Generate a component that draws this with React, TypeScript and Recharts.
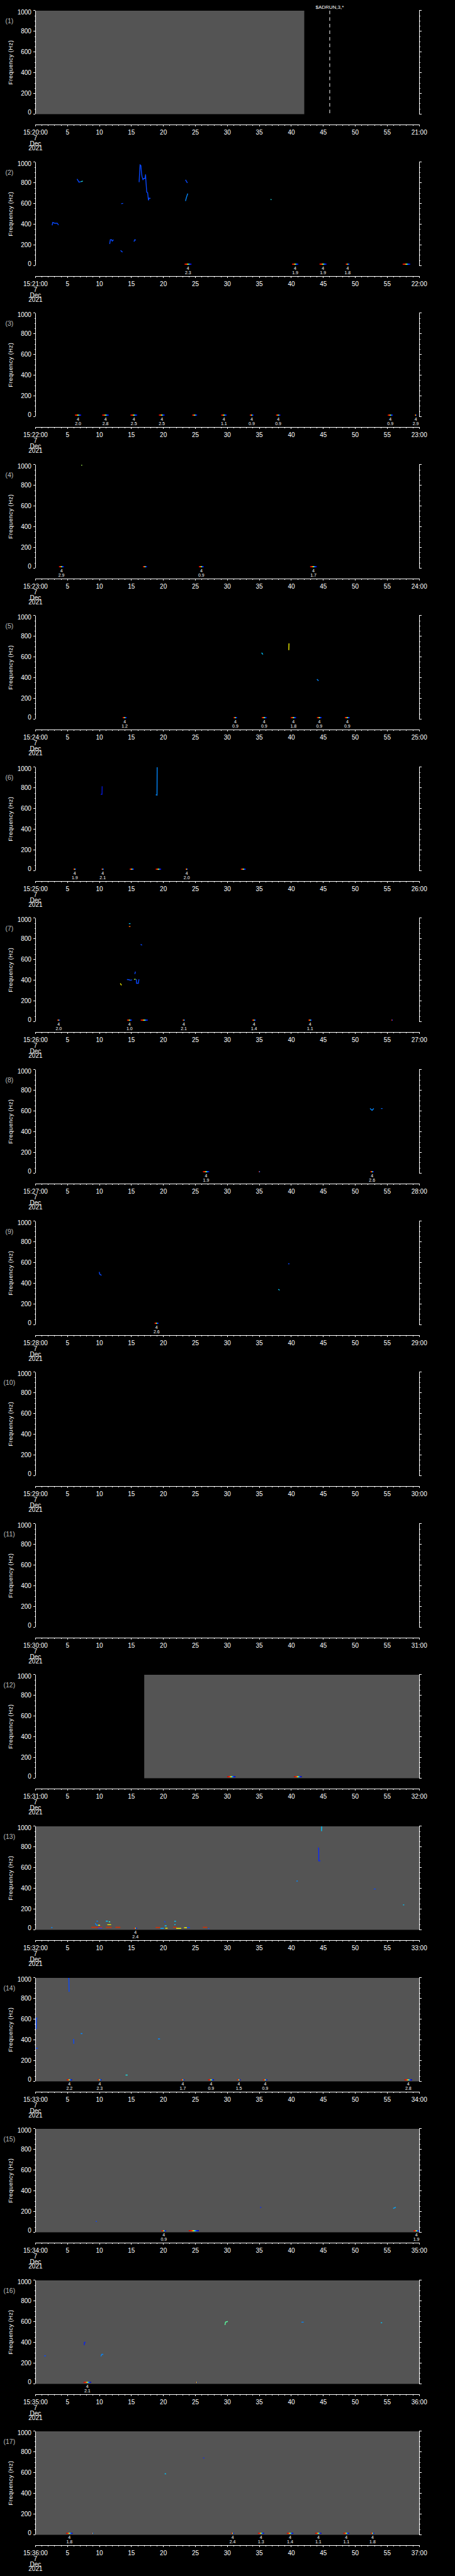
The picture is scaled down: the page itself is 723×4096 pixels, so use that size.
import React from "react"
import {
  ComposedChart,
  Line,
  XAxis,
  YAxis,
  ReferenceArea,
  ReferenceLine,
} from "recharts"

// layout (reference px * 0.705)
const S = 0.705
const W = 723
const PITCH = 341.25 * S
const TOP = 24 * S
const PLOT_H = 233.3 * S // 0..1000 Hz
const BELOW = 24 * S // gap between 0 Hz and the time axis
const LEFT = 80 * S
const RIGHT = W - 945 * S
const F_MIN = -(BELOW / PLOT_H) * 1000
const BAR_F0 = 8
const BAR_F1 = 20
const FONT = "'Liberation Sans', Arial, Helvetica, sans-serif"

// data
const minutes = [20, 21, 22, 23, 24, 25, 26, 27, 28, 29, 30, 31, 32, 33, 34, 35, 36]
const dateLines = ["7", "Dec", "2021"]
const secTicks = [
  0, 1, 2, 3, 4, 5, 6, 7, 8, 9, 10, 11, 12, 13, 14, 15, 16, 17, 18, 19, 20,
  21, 22, 23, 24, 25, 26, 27, 28, 29, 30, 31, 32, 33, 34, 35, 36, 37, 38, 39, 40,
  41, 42, 43, 44, 45, 46, 47, 48, 49, 50, 51, 52, 53, 54, 55, 56, 57, 58, 59, 60,
]
const freqTicks = [
  0, 50, 100, 150, 200, 250, 300, 350, 400, 450, 500, 550, 600, 650, 700, 750,
  800, 850, 900, 950, 1000,
]

// [panel, from s, to s] : no-data intervals
const gaps: [number, number, number][] = [
  [1, 0, 42.02],
  [12, 17.0, 60],
  [13, 0, 60],
  [14, 0, 60],
  [15, 0, 60],
  [16, 0, 60],
  [17, 0, 60],
]

// [panel, s, text]
const runMarks: [number, number, string][] = [[1, 46, "$ADRUN,3,*"]]

// [panel, intensity 0..1, [[s, Hz], ...]]
const traces: [number, number, [number, number][]][] = [
  [2, 0.3, [[2.6, 390], [2.7, 418], [3.0, 410], [3.4, 410], [3.6, 392]]],
  [2, 0.3, [[6.5, 838], [6.8, 807], [7.1, 812]]],
  [2, 0.55, [[7.1, 812], [7.4, 818]]],
  [2, 0.3, [[11.6, 210], [11.7, 250], [11.9, 250], [12.0, 238], [12.2, 250]]],
  [2, 0.3, [[13.3, 147], [13.6, 131]]],
  [2, 0.3, [[13.4, 599], [13.7, 602]]],
  [2, 0.3, [[15.4, 232], [15.5, 250], [15.7, 247]]],
  [2, 0.3, [[16.2, 807], [16.35, 974], [16.48, 967], [16.57, 896], [16.66, 860], [16.8, 832], [16.94, 843], [17.12, 843], [17.21, 882], [17.25, 832], [17.39, 710], [17.53, 706], [17.66, 632], [17.75, 653], [17.98, 650]]],
  [2, 0.3, [[23.45, 830], [23.6, 815], [23.75, 800]]],
  [2, 0.4, [[23.45, 625], [23.6, 660], [23.8, 697]]],
  [2, 0.55, [[36.75, 641], [36.9, 637]]],
  [4, 0.7, [[7.15, 996], [7.3, 994]]],
  [5, 0.5, [[35.35, 642], [35.55, 625]]],
  [5, 0.75, [[39.6, 666], [39.63, 732]]],
  [5, 0.4, [[44.0, 386], [44.25, 370]]],
  [6, 0.15, [[10.2, 738], [10.4, 738], [10.42, 816]]],
  [6, 0.4, [[18.8, 734], [19.0, 730], [19.02, 1000]]],
  [7, 0.75, [[13.25, 370], [13.45, 351]]],
  [7, 0.5, [[14.6, 947], [14.85, 947]]],
  [7, 0.9, [[14.6, 919], [14.85, 919]]],
  [7, 0.3, [[14.3, 407], [14.6, 405], [14.8, 400], [15.1, 403]]],
  [7, 0.7, [[15.4, 409], [15.67, 409]]],
  [7, 0.3, [[15.53, 460], [15.62, 484]]],
  [7, 0.3, [[15.76, 409], [15.8, 370], [16.08, 370], [16.17, 409]]],
  [7, 0.3, [[16.44, 747], [16.66, 739]]],
  [8, 0.4, [[52.3, 625], [52.62, 607], [52.89, 625]]],
  [8, 0.35, [[54.02, 625], [54.25, 625]]],
  [9, 0.3, [[9.96, 510], [10.05, 488], [10.32, 477]]],
  [9, 0.5, [[37.95, 343], [38.17, 334]]],
  [9, 0.3, [[39.5, 589], [39.7, 589]]],
  [13, 0.5, [[44.72, 953], [44.75, 1000]]],
  [13, 0.25, [[44.2, 794], [44.28, 784], [44.29, 666], [44.55, 666]]],
  [13, 0.4, [[40.8, 471], [41.0, 471]]],
  [13, 0.3, [[52.9, 394], [53.2, 394]]],
  [13, 0.5, [[57.45, 240], [57.65, 240]]],
  [13, 0.4, [[2.45, 21], [2.65, 21]]],
  [13, 0.95, [[8.74, 24], [10.46, 24]]],
  [13, 0.3, [[9.78, 17], [10.42, 17]]],
  [13, 0.4, [[9.33, 62], [9.55, 43], [9.8, 43]]],
  [13, 0.75, [[9.8, 43], [10.1, 43]]],
  [13, 0.4, [[9.55, 83], [9.75, 83]]],
  [13, 0.95, [[11.0, 24], [11.91, 24]]],
  [13, 0.5, [[11.0, 83], [11.32, 83]]],
  [13, 0.6, [[11.46, 77], [11.68, 77]]],
  [13, 0.75, [[11.23, 49], [11.82, 49]]],
  [13, 0.95, [[12.5, 24], [13.27, 24]]],
  [13, 0.95, [[18.79, 22], [19.52, 22]]],
  [13, 0.45, [[19.52, 13], [20.06, 13]]],
  [13, 0.3, [[20.15, 84], [20.29, 71]]],
  [13, 0.5, [[20.2, 37], [20.5, 37]]],
  [13, 0.75, [[20.29, 15], [20.65, 15]]],
  [13, 0.95, [[21.5, 24], [22.1, 24]]],
  [13, 0.5, [[21.7, 81], [21.96, 81]]],
  [13, 0.5, [[21.7, 49], [21.9, 49]]],
  [13, 0.75, [[22.0, 13], [22.78, 13]]],
  [13, 0.75, [[23.23, 19], [23.68, 19]]],
  [13, 0.3, [[23.68, 22], [24.14, 22]]],
  [13, 0.95, [[26.17, 24], [26.85, 24]]],
  [13, 0.3, [[26.99, 11], [27.17, 11]]],
  [14, 0.3, [[5.1, 995], [5.22, 995], [5.25, 865]]],
  [14, 0.3, [[0.12, 504], [0.14, 610], [0.3, 610]]],
  [14, 0.3, [[0.05, 320], [0.36, 320]]],
  [14, 0.3, [[5.95, 410], [6.0, 363]]],
  [14, 0.4, [[7.06, 461], [7.34, 461]]],
  [14, 0.4, [[19.15, 410], [19.47, 410]]],
  [14, 0.55, [[14.08, 60], [14.4, 60]]],
  [15, 0.3, [[9.4, 105], [9.6, 105]]],
  [15, 0.25, [[35.1, 240], [35.3, 240]]],
  [15, 0.45, [[55.93, 229], [56.33, 242]]],
  [16, 0.3, [[1.36, 270], [1.63, 270]]],
  [16, 0.2, [[7.61, 373], [7.65, 401], [7.83, 401]]],
  [16, 0.4, [[10.23, 266], [10.37, 285], [10.6, 285]]],
  [16, 0.65, [[29.62, 569], [29.71, 597], [30.07, 603]]],
  [16, 0.4, [[41.57, 596], [41.93, 596]]],
  [16, 0.5, [[53.98, 590], [54.2, 590]]],
  [17, 0.5, [[20.2, 589], [20.4, 589]]],
  [17, 0.25, [[26.2, 742], [26.4, 742]]],
]

// [panel, from s, to s, class, value]
type Ev = [number, number, number, string | null, string | null]
const events: Ev[] = [
  [2, 23.3, 24.4, "4", "2.3"], [2, 40.1, 41.1, "4", "1.9"], [2, 44.4, 45.5, "4", "1.9"],
  [2, 48.5, 49.1, "4", "1.8"], [2, 57.4, 58.6, null, null],
  [3, 6.16, 7.15, "4", "2.0"], [3, 10.42, 11.46, "4", "2.8"], [3, 14.85, 15.9, "4", "2.5"],
  [3, 19.29, 20.2, "4", "2.5"], [3, 24.5, 25.27, null, null], [3, 29.03, 29.89, "4", "1.1"],
  [3, 33.5, 34.1, "4", "0.9"], [3, 37.6, 38.3, "4", "0.9"], [3, 55.07, 55.88, "4", "0.9"],
  [3, 59.3, 59.6, "4", "2.9"],
  [4, 3.67, 4.44, "4", "2.9"], [4, 16.8, 17.43, null, null], [4, 25.54, 26.31, "4", "0.9"],
  [4, 42.93, 43.97, "4", "1.7"],
  [5, 13.63, 14.26, "4", "1.2"], [5, 30.97, 31.52, "4", "0.9"], [5, 35.37, 36.14, "4", "0.9"],
  [5, 39.9, 40.76, "4", "1.8"], [5, 44.0, 44.74, "4", "0.9"], [5, 48.36, 49.13, "4", "0.9"],
  [6, 5.93, 6.34, "4", "1.9"], [6, 10.32, 10.69, "4", "2.1"], [6, 14.72, 15.4, null, null],
  [6, 18.79, 19.65, null, null], [6, 23.46, 23.82, "4", "2.0"], [6, 32.1, 32.88, null, null],
  [7, 3.4, 3.85, "4", "2.0"], [7, 14.31, 15.08, "4", "1.0"], [7, 16.44, 17.57, null, null],
  [7, 23.0, 23.37, "4", "2.1"], [7, 33.87, 34.46, "4", "1.4"], [7, 42.66, 43.2, "4", "1.1"],
  [7, 55.65, 55.84, null, null],
  [8, 26.17, 27.17, "4", "1.9"], [8, 34.9, 35.1, null, null], [8, 52.35, 52.89, "4", "2.6"],
  [9, 18.61, 19.25, "4", "2.6"],
  [12, 29.98, 31.25, null, null], [12, 40.44, 41.62, null, null],
  [13, 15.4, 15.85, "4", "2.4"],
  [14, 4.89, 5.71, "4", "2.2"], [14, 9.74, 10.32, "4", "2.3"], [14, 22.78, 23.28, "4", "1.7"],
  [14, 26.99, 27.9, "4", "0.9"], [14, 31.52, 32.06, "4", "1.5"], [14, 35.59, 36.23, "4", "0.9"],
  [14, 57.69, 58.87, "4", "2.8"],
  [15, 19.7, 20.42, "4", "0.9"], [15, 23.96, 25.54, null, null], [15, 59.1, 60, "4", "1.9"],
  [16, 7.52, 8.69, "4", "2.1"], [16, 25.09, 25.31, null, null],
  [17, 4.8, 5.8, "4", "1.8"], [17, 8.83, 9.06, null, null], [17, 30.61, 31.02, "4", "2.4"],
  [17, 34.78, 35.73, "4", "1.3"], [17, 39.31, 40.3, "4", "1.4"], [17, 43.74, 44.7, "4", "1.1"],
  [17, 48.14, 49.04, "4", "1.1"], [17, 52.44, 52.94, "4", "1.8"],
]

// jet-like colour table for intensity
const STOPS: [number, [number, number, number]][] = [
  [0, [0, 0, 150]],
  [0.25, [10, 40, 255]],
  [0.5, [0, 200, 255]],
  [0.65, [90, 255, 160]],
  [0.75, [240, 240, 0]],
  [0.85, [255, 140, 0]],
  [1, [200, 0, 0]],
]
function colorOf(v: number) {
  for (let i = 1; i < STOPS.length; i++) {
    const [a, ca] = STOPS[i - 1]
    const [b, cb] = STOPS[i]
    if (v <= b) {
      const k = (v - a) / (b - a)
      const c = ca.map((x, j) => Math.round(x + (cb[j] - x) * k))
      return `rgb(${c[0]},${c[1]},${c[2]})`
    }
  }
  return "rgb(200,0,0)"
}

function TimeTick(props: any) {
  const { x, y, payload, minute } = props
  const v = payload.value as number
  const major = v % 5 === 0
  let label = String(v)
  if (v === 0) label = `15:${minute}:00`
  if (v === 60) label = `${minute + 1}:00`
  return (
    <g>
      <line x1={x} y1={y} x2={x} y2={y + (major ? 3 : 2)} stroke="#fff" shapeRendering="crispEdges" />
      {major && (
        <text x={x} y={y + 15.8} textAnchor="middle" fill="#fff" fontSize={10} fontFamily={FONT}>
          {label}
        </text>
      )}
      {v === 0 &&
        dateLines.map((d, i) => (
          <text key={d} x={x} y={y + [24.3, 33.3, 41.1][i]} textAnchor="middle" fill="#fff" fontSize={10} fontFamily={FONT}>
            {d}
          </text>
        ))}
    </g>
  )
}

function FreqTick(props: any) {
  const { x, y, payload, side } = props
  const v = payload.value as number
  const major = v % 200 === 0
  const dir = side === "l" ? -1 : 1
  const len = major ? 3.5 : 1.8
  const shift = v === 1000 ? 2.7 : v === 0 ? -3 : 0
  return (
    <g>
      <line x1={x} y1={y} x2={x + dir * len} y2={y} stroke="#fff" shapeRendering="crispEdges" />
      {side === "l" && major && (
        <text x={x - 6.5} y={y + 3.6 + shift} textAnchor="end" fill="#fff" fontSize={10} fontFamily={FONT}>
          {v}
        </text>
      )}
    </g>
  )
}

function EventLabel(props: any) {
  const { viewBox, cls, value } = props
  if (!viewBox) return null
  const cx = viewBox.x + viewBox.width / 2
  const b = viewBox.y + viewBox.height
  return (
    <g>
      <text x={cx} y={b + 8.2} textAnchor="middle" fill="#fff" fontSize={7} fontFamily={FONT}>
        {cls}
      </text>
      <text x={cx} y={b + 14.9} textAnchor="middle" fill="#fff" fontSize={7} fontFamily={FONT}>
        {value}
      </text>
    </g>
  )
}

function Panel({ n }: { n: number }) {
  const minute = minutes[n - 1]
  const gid = `rainbow${n}`
  return (
    <div style={{ position: "absolute", left: 0, top: (n - 1) * PITCH, width: W, height: PITCH }}>
      <ComposedChart width={W} height={PITCH} margin={{ top: TOP, right: 0, bottom: 0, left: 0 }}>
        <defs>
          <linearGradient id={gid} x1="0" y1="0" x2="1" y2="0">
            <stop offset="0" stopColor="#c80000" />
            <stop offset="0.3" stopColor="#ff3000" />
            <stop offset="0.45" stopColor="#f0f000" />
            <stop offset="0.6" stopColor="#00e0ff" />
            <stop offset="0.75" stopColor="#1030ff" />
            <stop offset="1" stopColor="#0000c0" />
          </linearGradient>
        </defs>
        <XAxis
          type="number"
          dataKey="t"
          domain={[0, 60]}
          ticks={secTicks}
          interval={0}
          allowDataOverflow
          height={PITCH - TOP - PLOT_H - BELOW}
          tickSize={0}
          tickMargin={0}
          tickLine={false}
          axisLine={{ stroke: "#fff", shapeRendering: "crispEdges" }}
          tick={(p: any) => <TimeTick {...p} minute={minute} />}
        />
        <YAxis
          yAxisId="f"
          type="number"
          domain={[F_MIN, 1000]}
          ticks={freqTicks}
          interval={0}
          allowDataOverflow
          width={LEFT}
          tickSize={0}
          tickMargin={0}
          tickLine={false}
          axisLine={false}
          tick={(p: any) => <FreqTick {...p} side="l" />}
          label={{
            content: () => (
              <g>
                <text x={14.8} y={TOP + 20.2} textAnchor="middle" fill="#bdbdbd" fontSize={10.5} fontFamily={FONT}>
                  ({n})
                </text>
                <text
                  x={0}
                  y={0}
                  transform={`translate(19.6, ${TOP + PLOT_H / 2}) rotate(-90)`}
                  textAnchor="middle"
                  fill="#fff"
                  fontSize={9.5}
                  letterSpacing={0.4}
                  fontFamily={FONT}
                >
                  Frequency (Hz)
                </text>
              </g>
            ),
          }}
        />
        <YAxis
          yAxisId="r"
          orientation="right"
          type="number"
          domain={[F_MIN, 1000]}
          ticks={freqTicks}
          interval={0}
          allowDataOverflow
          width={RIGHT}
          tickSize={0}
          tickMargin={0}
          tickLine={false}
          axisLine={false}
          tick={(p: any) => <FreqTick {...p} side="r" />}
        />
        {gaps
          .filter((g) => g[0] === n)
          .map((g, i) => (
            <ReferenceArea
              key={`g${i}`}
              yAxisId="f"
              x1={g[1]}
              x2={g[2]}
              y1={0}
              y2={1000}
              fill="#545454"
              fillOpacity={1}
              stroke="none"
              ifOverflow="visible"
            />
          ))}
        {traces
          .filter((tr) => tr[0] === n)
          .map((tr, i) => (
            <Line
              key={`t${i}`}
              yAxisId="f"
              data={tr[2].map(([t, f]) => ({ t, f }))}
              dataKey="f"
              type="linear"
              stroke={colorOf(tr[1])}
              strokeWidth={1.4}
              dot={false}
              activeDot={false}
              isAnimationActive={false}
            />
          ))}
        {events
          .filter((e) => e[0] === n)
          .map((e, i) => (
            <ReferenceArea
              key={`e${i}`}
              yAxisId="f"
              x1={e[1]}
              x2={e[2]}
              y1={BAR_F0}
              y2={BAR_F1}
              fill={`url(#${gid})`}
              fillOpacity={1}
              stroke="none"
              ifOverflow="visible"
              label={e[3] ? { content: (p: any) => <EventLabel {...p} cls={e[3]} value={e[4]} /> } : undefined}
            />
          ))}
        {runMarks
          .filter((r) => r[0] === n)
          .map((r, i) => (
            <ReferenceLine
              key={`r${i}`}
              yAxisId="f"
              segment={[{ x: r[1], y: 1000 }, { x: r[1], y: 0 }]}
              stroke="#fff"
              strokeDasharray="5.6 4.9"
              label={{ value: r[2], position: "top", fill: "#fff", fontSize: 8, offset: 2.5, fontFamily: FONT }}
            />
          ))}
        <ReferenceLine yAxisId="f" segment={[{ x: 0, y: 0 }, { x: 0, y: 1000 }]} stroke="#fff" shapeRendering="crispEdges" />
        <ReferenceLine yAxisId="f" segment={[{ x: 60, y: 0 }, { x: 60, y: 1000 }]} stroke="#fff" shapeRendering="crispEdges" />
      </ComposedChart>
    </div>
  )
}

export default function App() {
  return (
    <div
      style={{
        position: "absolute",
        left: 0,
        top: 0,
        width: W,
        height: 4096,
        background: "#000",
        overflow: "hidden",
      }}
    >
      {minutes.map((_, i) => (
        <Panel key={i} n={i + 1} />
      ))}
    </div>
  )
}
